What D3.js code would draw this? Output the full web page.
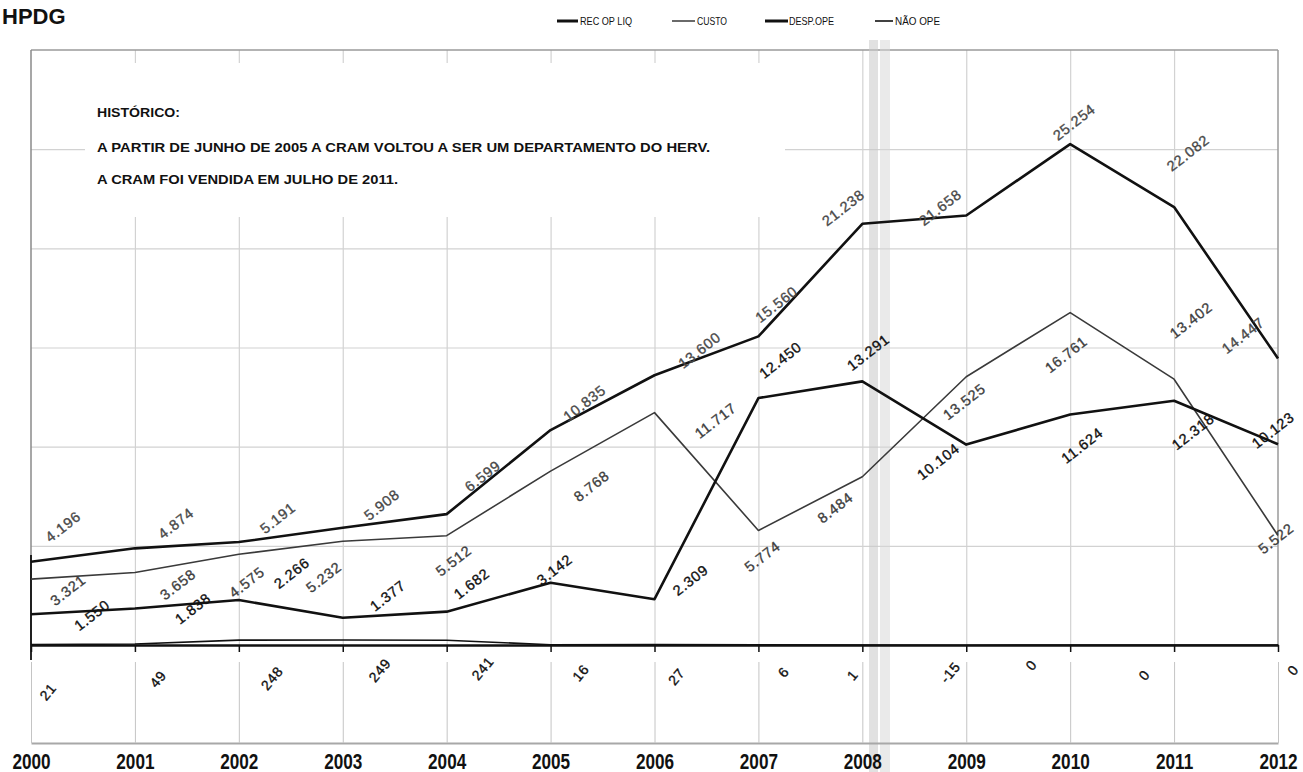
<!DOCTYPE html>
<html>
<head>
<meta charset="utf-8">
<script src="https://cdn.jsdelivr.net/npm/d3@7"></script>
<style>
  html, body { margin: 0; padding: 0; background: #fff; }
  svg { display: block; font-family: "Liberation Sans", Arial, sans-serif; }
</style>
</head>
<body>
<svg id="chart" width="1303" height="772"></svg>
<script>
// Annual figures (R$ mil)
const years = [2000, 2001, 2002, 2003, 2004, 2005, 2006, 2007, 2008, 2009, 2010, 2011, 2012];
const recOpLiq = [4196, 4874, 5191, 5908, 6599, 10835, 13600, 15560, 21238, 21658, 25254, 22082, 14447];
const custo    = [3321, 3658, 4575, 5232, 5512, 8768, 11717, 5774, 8484, 13525, 16761, 13402, 5522];
const despOpe  = [1550, 1838, 2266, 1377, 1682, 3142, 2309, 12450, 13291, 10104, 11624, 12318, 10123];
const naoOpe   = [21, 49, 248, 249, 241, 16, 27, 6, 1, -15, 0, 0, 0];
const seriesNames = ["REC OP LIQ", "CUSTO", "DESP.OPE", "NÃO OPE"];
const gridValues = [5000, 10000, 15000, 20000, 25000];
const yMax = 30000;

const titleText = "HPDG";
const notes = [
  "HISTÓRICO:",
  "A PARTIR DE JUNHO DE 2005 A CRAM VOLTOU A SER UM DEPARTAMENTO DO HERV.",
  "A CRAM FOI VENDIDA EM JULHO DE 2011."
];

// Label nudges (dx, dy) away from each point, per series
const recShift  = [[32,-35],[41,-25],[39,-24],[39,-23],[36,-38],[34,-27],[45,-25],[18,-32],[-19,-16],[-26,-8],[4,-22],[14,-54],[-35,-23]];
const custoShift = [[37,11],[43,12],[8,28],[-19,36],[7,25],[41,15],[61,8],[4,26],[-27,31],[-2,25],[-4,42],[17,-59],[-2,3]];
const despShift = [[61,1],[58,0],[53,-27],[45,-22],[25,-28],[4,-13],[36,-19],[22,-38],[6,-29],[-28,17],[12,31],[19,31],[-5,-14]];
const naoShift  = [[17,47],[23,35],[33,38],[37,30],[36,28],[30,28],[22,32],[25,27],[-10,30],[-16,27],[-39,20],[-30,30],[15,25]];

const fmt = d3.formatLocale({decimal: ",", thousands: ".", grouping: [3], currency: ["R$", ""], minus: "-"}).format(",d");

const svg = d3.select("#chart");
const plotLeft = 31, plotRight = 1278, plotTop = 50, zeroY = 645;

const x = d3.scaleLinear().domain([years[0], years[years.length - 1]]).range([plotLeft, plotRight]);
const y = d3.scaleLinear().domain([0, yMax]).range([zeroY, plotTop]);

// Title
svg.append("text").attr("x", 2).attr("y", 24)
  .attr("font-size", 22).attr("font-weight", "bold").attr("fill", "#111")
  .text(titleText);

// Horizontal gridlines
svg.append("g")
  .attr("transform", `translate(${plotLeft},0)`)
  .call(d3.axisLeft(y).tickValues(gridValues).tickSize(-(plotRight - plotLeft)).tickFormat(""))
  .call(g => g.select(".domain").remove())
  .call(g => g.selectAll(".tick line").attr("stroke", "#d2d2d2").attr("stroke-width", 1.2));

// Vertical gridlines
svg.append("g")
  .attr("transform", `translate(0,${zeroY})`)
  .call(d3.axisBottom(x).tickValues(years.slice(1, -1)).tickSize(-(zeroY - plotTop)).tickFormat(""))
  .call(g => g.select(".domain").remove())
  .call(g => g.selectAll(".tick line").attr("stroke", "#d2d2d2").attr("stroke-width", 1.2));

// Plot frame: top, left and right edges
svg.append("line").attr("x1", plotLeft).attr("x2", plotRight).attr("y1", y(yMax)).attr("y2", y(yMax))
  .attr("stroke", "#9a9a9a").attr("stroke-width", 1.5);
svg.append("line").attr("x1", plotLeft).attr("x2", plotLeft).attr("y1", y(yMax)).attr("y2", zeroY)
  .attr("stroke", "#8a8a8a").attr("stroke-width", 1.5);
svg.append("line").attr("x1", plotLeft).attr("x2", plotLeft).attr("y1", 555).attr("y2", 660)
  .attr("stroke", "#111").attr("stroke-width", 1.8);
svg.append("line").attr("x1", plotRight).attr("x2", plotRight).attr("y1", y(yMax)).attr("y2", zeroY)
  .attr("stroke", "#9a9a9a").attr("stroke-width", 1.5);

// Note box
svg.append("rect").attr("x", 85).attr("y", 63).attr("width", 700).attr("height", 154).attr("fill", "#fff");
const noteBaselines = [117, 152, 184];
const noteWidths = [83, 613, 301];
svg.append("g").selectAll("text").data(notes).join("text")
  .attr("x", 97).attr("y", (d, i) => noteBaselines[i])
  .attr("font-size", 12.5).attr("font-weight", "bold").attr("fill", "#111")
  .attr("textLength", (d, i) => noteWidths[i]).attr("lengthAdjust", "spacingAndGlyphs")
  .text(d => d);

// Faint fold shadow across the sheet
svg.append("rect").attr("x", 869).attr("y", 40).attr("width", 9).attr("height", 732).attr("fill", "#c8c8c8").attr("opacity", 0.55);
svg.append("rect").attr("x", 880).attr("y", 40).attr("width", 10).attr("height", 732).attr("fill", "#d6d6d6").attr("opacity", 0.5);

// Lower band below the zero axis
svg.append("g")
  .attr("transform", "translate(0,743)")
  .call(d3.axisBottom(x).tickValues(years).tickSize(-(743 - 662)).tickSizeOuter(0).tickFormat(""))
  .call(g => g.select(".domain").attr("stroke", "#a8a8a8").attr("stroke-width", 2))
  .call(g => g.selectAll(".tick line").attr("stroke", "#c4c4c4").attr("stroke-width", 1));

// Year labels
svg.append("g")
  .attr("transform", "translate(0,743)")
  .call(d3.axisBottom(x).tickValues(years).tickSize(0).tickPadding(10).tickFormat(d3.format("d")))
  .call(g => g.select(".domain").remove())
  .call(g => g.selectAll(".tick text")
    .attr("font-family", "'Liberation Sans', Arial, sans-serif")
    .attr("font-size", 22).attr("font-weight", "bold").attr("fill", "#111")
    .attr("transform", "scale(0.78,1)"));

// Series
const series = [
  {name: seriesNames[0], values: recOpLiq, stroke: "#111", width: 2.6, label: "#4a4a4a", shift: recShift, size: 14.5, angle: -38},
  {name: seriesNames[1], values: custo, stroke: "#3a3a3a", width: 1.6, label: "#3f3f3f", shift: custoShift, size: 14.5, angle: -38},
  {name: seriesNames[2], values: despOpe, stroke: "#111", width: 2.6, label: "#111", shift: despShift, size: 14.5, angle: -38},
  {name: seriesNames[3], values: naoOpe, stroke: "#111", width: 1.6, label: "#111", shift: naoShift, size: 14, angle: -50}
];

const line = d3.line().x((d, i) => x(years[i])).y(d => y(d));

series.forEach(s => {
  svg.append("path").datum(s.values)
    .attr("fill", "none").attr("stroke", s.stroke).attr("stroke-width", s.width)
    .attr("stroke-linejoin", "round").attr("d", line);
});

// Zero axis with year ticks
svg.append("g")
  .attr("transform", `translate(0,${zeroY})`)
  .call(d3.axisBottom(x).tickValues(years).tickSize(7).tickSizeOuter(0).tickFormat(""))
  .call(g => g.select(".domain").attr("stroke", "#111").attr("stroke-width", 2.4))
  .call(g => g.selectAll(".tick line").attr("stroke", "#111").attr("stroke-width", 1.5));

// Value labels
series.forEach(s => {
  svg.append("g").selectAll("text").data(s.values).join("text")
    .attr("transform", (d, i) => `translate(${x(years[i]) + s.shift[i][0]},${y(d) + s.shift[i][1]}) rotate(${s.angle})`)
    .attr("text-anchor", "middle").attr("dominant-baseline", "central")
    .attr("font-size", s.size).attr("letter-spacing", 0.8).attr("fill", s.label)
    .attr("stroke", s.label).attr("stroke-width", 0.35)
    .text(d => fmt(d));
});

// Legend
const legendItems = [
  {x1: 557, x2: 578, tx: 580, tw: 52, stroke: "#111", width: 3},
  {x1: 672, x2: 695, tx: 697, tw: 30, stroke: "#444", width: 1.6},
  {x1: 765, x2: 788, tx: 789, tw: 45, stroke: "#111", width: 3},
  {x1: 875, x2: 893, tx: 895, tw: 45, stroke: "#111", width: 1.6}
];
const legend = svg.append("g");
legendItems.forEach((it, i) => {
  legend.append("line").attr("x1", it.x1).attr("x2", it.x2).attr("y1", 21).attr("y2", 21)
    .attr("stroke", it.stroke).attr("stroke-width", it.width);
  legend.append("text").attr("x", it.tx).attr("y", 25)
    .attr("font-size", 11).attr("fill", "#111")
    .attr("textLength", it.tw).attr("lengthAdjust", "spacingAndGlyphs")
    .text(seriesNames[i]);
});
</script>
</body>
</html>
